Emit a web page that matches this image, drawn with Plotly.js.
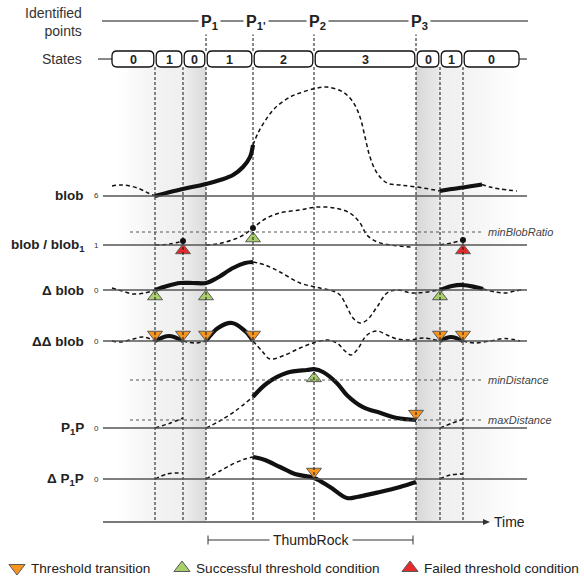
<!DOCTYPE html>
<html><head><meta charset="utf-8">
<script src="https://cdn.plot.ly/plotly-3.0.1.min.js"></script>
<style>html,body{margin:0;padding:0;background:#fff}#chart{width:584px;height:579px}</style>
</head><body><div id="chart"></div>
<script>
// ---------- data ----------
const eventTimes = [155, 183, 206, 253, 314, 416, 440, 463];
const pointTimes = [206, 253, 314, 416];
const pointLabels = ['P<sub>1</sub>', "P<sub>1'</sub>", 'P<sub>2</sub>', 'P<sub>3</sub>'];
const stateBounds = [112, 155, 183, 206, 253, 314, 416, 440, 463, 519];
const stateLabels = ['0', '1', '0', '1', '2', '3', '0', '1', '0'];
const rowLabels = ['blob', 'blob / blob<sub>1</sub>', 'Δ blob', 'ΔΔ blob', 'P<sub>1</sub>P', 'Δ P<sub>1</sub>P'];
const rowTicks = ['6', '1', '0', '0', '0', '0'];
const rowBaseVal = [6, 1, 0, 0, 0, 0];
const minBlobRatio = 1.5, minDistance = 6, maxDistance = 1;
const thresholdNames = ['minBlobRatio', 'minDistance', 'maxDistance'];

// blob
const blobT1 = [112,120,130,140,148,155], blobV1 = [7.0,7.1,7.0,6.7,6.3,6.0];
const blobT2 = [155,170,185,206,220,233,243,250,253], blobV2 = [6.0,6.4,6.75,7.2,7.6,8.1,8.9,9.9,11.1];
const blobT3 = [253,258,265,275,290,300,315,327,343,353,360,365,370,377,387,400,417,440];
const blobV3 = [11.1,12.3,13.5,14.8,15.9,16.3,16.75,16.9,16.4,15.4,13.9,11.9,9.9,8.3,7.3,7.1,6.9,6.5];
const blobT4 = [440,452,463,482], blobV4 = [6.5,6.7,6.85,7.15];
const blobT5 = [482,490,500,517], blobV5 = [7.15,6.9,6.7,6.5];
// blob / blob1
const ratioT1 = [155,170,183], ratioV1 = [1.0,1.04,1.15];
const ratioT2 = [206,220,235,245,253,265,280,300,317,335,350,360,367,377,390,413];
const ratioV2 = [1.0,1.06,1.23,1.42,1.65,2.0,2.23,2.35,2.46,2.42,2.23,1.85,1.38,1.12,1.0,0.92];
const ratioT3 = [440,452,463], ratioV3 = [1.0,1.08,1.19];
const ratioDotT = [183,253,463], ratioDotV = [1.15,1.65,1.19];
// Δ blob
const dblobT1 = [112,122,133,145,155], dblobV1 = [0.2,-0.1,-0.4,-0.3,0];
const dblobT2 = [155,167,180,193,206,217,233,245,253], dblobV2 = [0,0.4,0.7,0.7,0.7,1.2,2.2,2.7,2.8];
const dblobT3 = [253,265,280,300,320,333,340,347,353,360,367,377,387,397,413,440];
const dblobV3 = [2.8,2.5,1.8,0.7,0.2,-0.1,-0.5,-1.7,-2.8,-3.3,-3.0,-1.7,-0.3,0,-0.3,0];
const dblobT4 = [440,452,463,475,483], dblobV4 = [0,0.4,0.5,0.3,0.1];
const dblobT5 = [483,495,505,515,522], dblobV5 = [0.1,-0.2,-0.3,-0.1,0];
// ΔΔ blob
const ddT1 = [112,120,130,143,155], ddV1 = [0,-0.1,0.1,0.4,0];
const ddT2 = [155,169,183], ddV2 = [0,0.5,0];
const ddT3 = [183,195,206], ddV3 = [0,-0.2,0];
const ddT4 = [206,218,232,245,253], ddV4 = [0,1.3,1.8,1.0,0];
const ddT5 = [253,262,270,285,300,313,327,337,345,351,357,367,377,387,397,410,423,440];
const ddV5 = [0,-1.0,-1.8,-1.4,-0.7,-0.2,0.1,-0.2,-1.0,-1.4,-0.9,0.6,1.0,0.6,0.2,0.1,0.3,0];
const ddT6 = [440,451,463], ddV6 = [0,0.4,0];
const ddT7 = [463,475,490,505,520], ddV7 = [0,-0.2,0,0.25,0];
// P1P
const p1pT1 = [155,170,183], p1pV1 = [0,0.6,1.25];
const p1pT2 = [206,220,235,253], p1pV2 = [0,0.9,2.1,3.9];
const p1pT3 = [253,267,287,307,314,323,337,347,363,380,397,416];
const p1pV3 = [3.9,5.6,6.9,7.25,7.35,7.0,5.6,4.1,2.6,1.9,1.25,1.0];
const p1pT4 = [440,452,463], p1pV4 = [0,0.6,1.1];
// Δ P1P
const dp1pT1 = [155,167,183], dp1pV1 = [0,0.5,0.6];
const dp1pT2 = [206,220,235,245,253], dp1pV2 = [0,0.8,1.6,2.0,2.2];
const dp1pT3 = [253,265,280,295,314,330,347,357,380,400,416];
const dp1pV3 = [2.2,1.9,1.2,0.5,0.1,-0.8,-1.9,-1.8,-1.3,-0.8,-0.3];
const dp1pT4 = [440,450,463], dp1pV4 = [0,0.4,0.5];

// markers
const transDdT = [155,183,206,253,440,463], transDdV = [0.65,0.65,0.65,0.65,0.65,0.65];
const transP1pT = [416], transP1pV = [1.8];
const transDp1pT = [314], transDp1pV = [0.75];
const succRatioT = [253], succRatioV = [1.25];
const succDblobT = [155,206,440], succDblobV = [-0.65,-0.65,-0.65];
const succP1pT = [314], succP1pV = [6.2];
const failRatioT = [183,463], failRatioV = [0.79,0.79];
const legendNames = ['Threshold transition', 'Successful threshold condition', 'Failed threshold condition'];

// ---------- layout helpers ----------
const W = 584, H = 579;
const FONT = 'Liberation Sans, Arial, Helvetica, sans-serif';
const rowBasePx = [196, 245, 290, 341, 428, 479];
const rowScale = [10, 26, 10, 10, 8, 10];
const yids = ['y', 'y2', 'y3', 'y4', 'y5', 'y6'];
const pp = p => 1 - p / H;

const traces = [];
function seg(row, t, v, solid) {
  traces.push({
    x: t, y: v, xaxis: 'x', yaxis: yids[row], mode: 'lines', showlegend: false, hoverinfo: 'skip',
    line: {color: '#111', width: solid ? 4.2 : 1.5, dash: solid ? 'solid' : '4px,3px', shape: 'spline', smoothing: 1}
  });
}
seg(0, blobT1, blobV1, false); seg(0, blobT2, blobV2, true); seg(0, blobT3, blobV3, false);
seg(0, blobT4, blobV4, true); seg(0, blobT5, blobV5, false);
seg(1, ratioT1, ratioV1, false); seg(1, ratioT2, ratioV2, false); seg(1, ratioT3, ratioV3, false);
seg(2, dblobT1, dblobV1, false); seg(2, dblobT2, dblobV2, true); seg(2, dblobT3, dblobV3, false);
seg(2, dblobT4, dblobV4, true); seg(2, dblobT5, dblobV5, false);
seg(3, ddT1, ddV1, false); seg(3, ddT2, ddV2, true); seg(3, ddT3, ddV3, false); seg(3, ddT4, ddV4, true);
seg(3, ddT5, ddV5, false); seg(3, ddT6, ddV6, true); seg(3, ddT7, ddV7, false);
seg(4, p1pT1, p1pV1, false); seg(4, p1pT2, p1pV2, false); seg(4, p1pT3, p1pV3, true); seg(4, p1pT4, p1pV4, false);
seg(5, dp1pT1, dp1pV1, false); seg(5, dp1pT2, dp1pV2, false); seg(5, dp1pT3, dp1pV3, true); seg(5, dp1pT4, dp1pV4, false);

traces.push({x: ratioDotT, y: ratioDotV, yaxis: 'y2', mode: 'markers', showlegend: false, hoverinfo: 'skip',
  marker: {color: '#111', size: 6}});

const markerStyles = [
  {symbol: 'triangle-down', color: '#F7941D'},
  {symbol: 'triangle-up', color: '#A8CF6B'},
  {symbol: 'triangle-up', color: '#E42A2B'}
];
function mk(kind, yaxis, t, v, size) {
  traces.push({x: t, y: v, yaxis: yaxis, mode: 'markers', name: legendNames[kind], showlegend: false,
    hoverinfo: 'skip', cliponaxis: false,
    marker: {symbol: markerStyles[kind].symbol, color: markerStyles[kind].color, size: size || 13,
      line: {color: '#5a5a5a', width: 1}}});
}
mk(0, 'y4', transDdT, transDdV); mk(0, 'y5', transP1pT, transP1pV); mk(0, 'y6', transDp1pT, transDp1pV);
mk(1, 'y2', succRatioT, succRatioV); mk(1, 'y3', succDblobT, succDblobV); mk(1, 'y5', succP1pT, succP1pV);
mk(2, 'y2', failRatioT, failRatioV);

// axes
const layout = {
  width: W, height: H, autosize: false, margin: {l: 0, r: 0, t: 0, b: 0},
  paper_bgcolor: '#fff', plot_bgcolor: 'rgba(0,0,0,0)', font: {family: FONT, color: '#222'},
  xaxis: {range: [0, W], visible: false, fixedrange: true},
  showlegend: false,
  shapes: [], annotations: []
};
rowBasePx.forEach((yb, i) => {
  const b = rowBaseVal[i], s = rowScale[i];
  const ax = {range: [b - (H - yb) / s, b + yb / s], visible: false, fixedrange: true};
  if (i > 0) ax.overlaying = 'y';
  layout[i === 0 ? 'yaxis' : 'yaxis' + (i + 1)] = ax;
});
// legend key strip axis
layout.yaxis7 = {domain: [pp(579), pp(557)], range: [0, 1], visible: false, fixedrange: true, anchor: 'x'};
const legendKeyX = [17, 182, 410];
legendKeyX.forEach((x, k) => {
  const st = markerStyles[k];
  traces.push({x: [x], y: [0.5], yaxis: 'y7', mode: 'markers', showlegend: false, hoverinfo: 'skip', cliponaxis: false,
    marker: {symbol: st.symbol, color: st.color, size: 14, line: {color: '#5a5a5a', width: 1}}});
});

const S = layout.shapes, A = layout.annotations;
legendNames.forEach((n, k) => {
  A.push({xref: 'x', yref: 'paper', x: legendKeyX[k] + 12, y: pp(568), xanchor: 'left', text: n, showarrow: false,
    font: {size: 13.6, color: '#222'}});
});

// gray gradient backgrounds
function grayAt(x) {
  const lerp = (a, b, x0, x1) => a + (b - a) * (x - x0) / (x1 - x0);
  if (x >= 116 && x < 155) return lerp(255, 243, 116, 155);
  if (x >= 155 && x < 183) return lerp(243, 239, 155, 183);
  if (x >= 183 && x < 206) return lerp(239, 217, 183, 206);
  if (x >= 416 && x < 440) return lerp(216, 234, 416, 440);
  if (x >= 440 && x < 463) return lerp(239, 242, 440, 463);
  if (x >= 463 && x < 520) return lerp(243, 255, 463, 520);
  return null;
}
for (let x = 116; x < 520; x += 1) {
  const g = grayAt(x);
  if (g === null) continue;
  const c = Math.round(g);
  S.push({type: 'rect', layer: 'below', xref: 'x', yref: 'paper', x0: x, x1: x + 1.2, y0: pp(522), y1: pp(67),
    line: {width: 0}, fillcolor: `rgb(${c},${c},${c})`});
}

// identified points line
S.push({type: 'line', xref: 'x', yref: 'paper', x0: 102, x1: 528, y0: pp(21), y1: pp(21), line: {color: '#111', width: 1}});
// states line ends
S.push({type: 'line', xref: 'x', yref: 'paper', x0: 98, x1: stateBounds[0], y0: pp(59), y1: pp(59), line: {color: '#111', width: 1}});
S.push({type: 'line', xref: 'x', yref: 'paper', x0: stateBounds[stateBounds.length - 1], x1: 527, y0: pp(59), y1: pp(59), line: {color: '#111', width: 1}});
// state boxes
function rr(x0, x1, y0p, y1p, r) {
  const Y = p => pp(p);
  return `M ${x0 + r},${Y(y0p)} L ${x1 - r},${Y(y0p)} Q ${x1},${Y(y0p)} ${x1},${Y(y0p + r)} L ${x1},${Y(y1p - r)} Q ${x1},${Y(y1p)} ${x1 - r},${Y(y1p)} L ${x0 + r},${Y(y1p)} Q ${x0},${Y(y1p)} ${x0},${Y(y1p - r)} L ${x0},${Y(y0p + r)} Q ${x0},${Y(y0p)} ${x0 + r},${Y(y0p)} Z`;
}
for (let i = 0; i < stateLabels.length; i++) {
  const x0 = stateBounds[i] + (i === 0 ? 0 : 1.2), x1 = stateBounds[i + 1] - (i === stateLabels.length - 1 ? 0 : 1.2);
  S.push({type: 'path', xref: 'x', yref: 'paper', path: rr(x0, x1, 51, 67, 5), line: {color: '#111', width: 1.3}, fillcolor: '#fff'});
  A.push({xref: 'x', yref: 'paper', x: (stateBounds[i] + stateBounds[i + 1]) / 2, y: pp(59.5), text: '<b>' + stateLabels[i] + '</b>',
    showarrow: false, font: {size: 12.5, color: '#222'}});
}
// vertical dashed event lines
eventTimes.forEach(t => {
  S.push({type: 'line', xref: 'x', yref: 'paper', x0: t, x1: t, y0: pp(67), y1: pp(522), line: {color: '#111', width: 1, dash: '3px,2px'}});
});
pointTimes.forEach((t, i) => {
  S.push({type: 'line', xref: 'x', yref: 'paper', x0: t, x1: t, y0: pp(33), y1: pp(51), line: {color: '#111', width: 1, dash: '3px,2px'}});
  A.push({xref: 'x', yref: 'paper', x: t + 3, y: pp(23), text: '<b>' + pointLabels[i] + '</b>', showarrow: false,
    font: {size: 16, color: '#222'}, bgcolor: '#fff', borderpad: 2});
});
// baselines
rowBasePx.forEach((yb, i) => {
  S.push({type: 'line', xref: 'x', yref: yids[i], x0: 103, x1: 527, y0: rowBaseVal[i], y1: rowBaseVal[i], line: {color: '#555', width: 1.4}});
  A.push({xref: 'x', yref: 'paper', x: 86, y: pp(yb), xanchor: 'right', text: '<b>' + rowLabels[i] + '</b>', showarrow: false,
    font: {size: 13.5, color: '#222'}});
  A.push({xref: 'x', yref: 'paper', x: 96.5, y: pp(yb), text: rowTicks[i], showarrow: false, font: {size: 8, color: '#333'}});
});
// thresholds
const thrVals = [minBlobRatio, minDistance, maxDistance], thrAxes = ['y2', 'y5', 'y5'];
thrVals.forEach((v, i) => {
  S.push({type: 'line', xref: 'x', yref: thrAxes[i], x0: 130, x1: 483, y0: v, y1: v, line: {color: '#555', width: 1, dash: 'dot'}});
  A.push({xref: 'x', yref: thrAxes[i], x: 486, y: v, xanchor: 'left', text: '<i>' + thresholdNames[i] + '</i>', showarrow: false,
    font: {size: 11, color: '#444'}});
});
// time axis
S.push({type: 'line', xref: 'x', yref: 'paper', x0: 103, x1: 485, y0: pp(522), y1: pp(522), line: {color: '#7a7a7a', width: 1.8}});
S.push({type: 'path', xref: 'x', yref: 'paper', path: `M 483,${pp(519)} L 490,${pp(522)} L 483,${pp(525)} Z`, fillcolor: '#333', line: {width: 0}});
A.push({xref: 'x', yref: 'paper', x: 492, y: pp(522), xanchor: 'left', text: 'Time', showarrow: false, font: {size: 14, color: '#222'}});
// ThumbRock bracket
const trStart = pointTimes[0] + 2, trEnd = pointTimes[3] - 3;
S.push({type: 'line', xref: 'x', yref: 'paper', x0: trStart, x1: trEnd, y0: pp(540), y1: pp(540), line: {color: '#333', width: 1}});
S.push({type: 'line', xref: 'x', yref: 'paper', x0: trStart, x1: trStart, y0: pp(535.5), y1: pp(544.5), line: {color: '#333', width: 1}});
S.push({type: 'line', xref: 'x', yref: 'paper', x0: trEnd, x1: trEnd, y0: pp(535.5), y1: pp(544.5), line: {color: '#333', width: 1}});
A.push({xref: 'x', yref: 'paper', x: (trStart + trEnd) / 2, y: pp(540), text: 'ThumbRock', showarrow: false, bgcolor: '#fff', borderpad: 3,
  font: {size: 14, color: '#222'}});
// left labels
A.push({xref: 'x', yref: 'paper', x: 84, y: pp(22), xanchor: 'right', align: 'right', text: 'Identified<br>points', showarrow: false,
  font: {size: 14, color: '#333'}});
A.push({xref: 'x', yref: 'paper', x: 84, y: pp(59), xanchor: 'right', text: 'States', showarrow: false, font: {size: 14, color: '#333'}});

A.forEach(a => { if (!a.yanchor) a.yanchor = 'middle'; if (!a.xanchor) a.xanchor = 'center'; });

Plotly.newPlot('chart', traces, layout, {staticPlot: true, displayModeBar: false});
</script>
</body></html>
